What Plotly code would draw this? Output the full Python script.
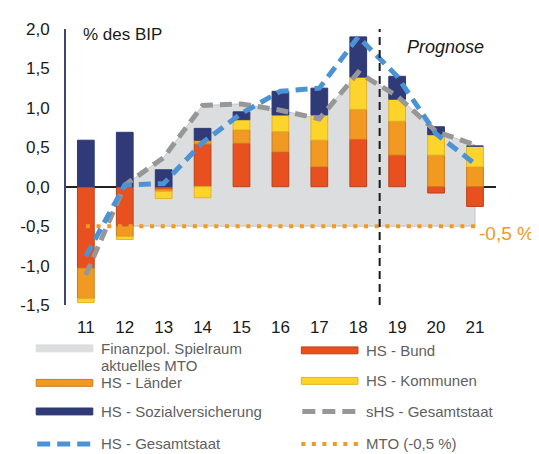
import plotly.graph_objects as go

years = [11, 12, 13, 14, 15, 16, 17, 18, 19, 20, 21]
year_labels = ["11", "12", "13", "14", "15", "16", "17", "18", "19", "20", "21"]

hs_bund = [-1.03, -0.50, -0.03, 0.54, 0.55, 0.44, 0.25, 0.60, 0.40, -0.08, -0.25]
hs_laender = [-0.39, -0.13, -0.03, 0.05, 0.17, 0.26, 0.34, 0.38, 0.43, 0.40, 0.25]
hs_kommunen = [-0.05, -0.04, -0.09, -0.14, 0.13, 0.21, 0.32, 0.41, 0.28, 0.26, 0.265]
hs_sozial = [0.59, 0.69, 0.215, 0.15, 0.10, 0.30, 0.34, 0.51, 0.29, 0.10, 0.0]
hs_gesamt = [-0.88, 0.02, 0.04, 0.56, 0.93, 1.21, 1.25, 1.90, 1.40, 0.67, 0.29]
shs_gesamt = [-1.12, 0.02, 0.37, 1.03, 1.05, 0.97, 0.86, 1.45, 1.15, 0.70, 0.53]
mto = [-0.5] * len(years)
fill_years = years[1:]
fill_top = shs_gesamt[1:]
fill_bottom = mto[1:]

y_ticks = [-1.5, -1.0, -0.5, 0.0, 0.5, 1.0, 1.5, 2.0]
y_ticklabels = ["-1,5", "-1,0", "-0,5", "0,0", "0,5", "1,0", "1,5", "2,0"]

C_FILL = "#DCDDDF"
C_BUND = "#E8511F"
C_LAENDER = "#F29922"
C_KOMM = "#FDD42B"
C_SOZ = "#2F3A76"
C_GRAY = "#979797"
C_BLUE = "#4C93D5"
C_MTO = "#F29922"

fig = go.Figure()

# fill (base subplot, drawn below bars)
fig.add_trace(go.Scatter(
    x=fill_years + fill_years[::-1], y=fill_top + fill_bottom[::-1],
    fill="toself", fillcolor=C_FILL, mode="lines",
    line=dict(color="#C4C5C7", width=1), showlegend=False, hoverinfo="skip",
    xaxis="x", yaxis="y"))

bar_w = 0.43
for vals, col, edge in [(hs_bund, C_BUND, "#B9401C"), (hs_laender, C_LAENDER, "#C97D1E"),
                        (hs_kommunen, C_KOMM, "#E2B324"), (hs_sozial, C_SOZ, "#2F3A76")]:
    fig.add_trace(go.Bar(x=years, y=vals, width=bar_w, marker=dict(color=col, line=dict(color=edge, width=1)),
                         showlegend=False, xaxis="x2", yaxis="y2"))

fig.add_trace(go.Scatter(x=years, y=mto, mode="lines", line=dict(color=C_MTO, width=4, dash="4px,6.7px"),
                         showlegend=False, xaxis="x2", yaxis="y2"))
fig.add_trace(go.Scatter(x=years, y=shs_gesamt, mode="lines", line=dict(color=C_GRAY, width=5, dash="12px,7px"),
                         showlegend=False, xaxis="x2", yaxis="y2"))
fig.add_trace(go.Scatter(x=years, y=hs_gesamt, mode="lines", line=dict(color=C_BLUE, width=5, dash="12px,7px"),
                         showlegend=False, xaxis="x2", yaxis="y2"))

xr = [10.49, 21.54]
yr = [-1.5, 2.0]
axis_font = dict(family="Liberation Sans, Arial, sans-serif", size=17, color="#1a1a1a")

# page body has an 8px margin: figure is sized/placed so the plot area lands at the reference pixels
fig.update_layout(
    width=531, height=446,
    margin=dict(l=55, r=43, t=17, b=149),
    paper_bgcolor="white", plot_bgcolor="white",
    barmode="relative",
    showlegend=False,
    font=dict(family="Liberation Sans, Arial, sans-serif"),
    xaxis=dict(range=xr, tickvals=years, ticktext=year_labels, showgrid=False, zeroline=False,
               showline=False, ticks="", tickfont=axis_font, ticklabelstandoff=10),
    yaxis=dict(range=yr, tickvals=y_ticks, ticktext=y_ticklabels, showgrid=False, zeroline=False,
               showline=True, linecolor="#3D4571", linewidth=2, ticks="", tickfont=axis_font,
               ticklabelstandoff=11),
    xaxis2=dict(range=xr, overlaying="x", showgrid=False, zeroline=False, showticklabels=False, showline=False),
    yaxis2=dict(range=yr, overlaying="y", showgrid=False, zeroline=True, zerolinecolor="#222222",
                zerolinewidth=1.5, showticklabels=False, showline=False),
)

# forecast separator
fig.add_shape(type="line", xref="x2", yref="y2", x0=18.55, x1=18.55, y0=-1.5, y1=2.0,
              line=dict(color="#1a1a1a", width=2, dash="8px,5px"))

PX0, PX1, PY0, PY1 = 63, 496, 25, 305
def px(x):
    return (x - PX0) / (PX1 - PX0)
def py(y):
    return (PY1 - y) / (PY1 - PY0)

fig.add_annotation(text="% des BIP", xref="paper", yref="paper", x=px(78), y=py(31),
                   xanchor="left", yanchor="middle", showarrow=False,
                   font=dict(size=17, color="#1a1a1a"))
fig.add_annotation(text="<i>Prognose</i>", xref="paper", yref="paper", x=px(404), y=py(43),
                   xanchor="left", yanchor="middle", showarrow=False,
                   font=dict(size=18, color="#1a1a1a"))
fig.add_annotation(text="-0,5 %", xref="paper", yref="paper", x=px(477), y=py(232),
                   xanchor="left", yanchor="middle", showarrow=False,
                   font=dict(size=19, color=C_MTO))

# manual legend
leg_font = dict(size=15, color="#5F5F5F")
legend_items = [
    ("Finanzpol. Spielraum", "box", C_FILL, C_FILL, 33, 349),
    ("HS - Bund", "box", C_BUND, "#B9401C", 300, 351),
    ("HS - Länder", "box", C_LAENDER, "#C97D1E", 33, 384),
    ("HS - Kommunen", "box", C_KOMM, "#E2B324", 300, 382),
    ("HS - Sozialversicherung", "box", C_SOZ, C_SOZ, 33, 413),
    ("sHS - Gesamtstaat", "dash", C_GRAY, None, 300, 413),
    ("HS - Gesamtstaat", "dashb", C_BLUE, None, 33, 446),
    ("MTO (-0,5 %)", "dot", C_MTO, None, 300, 446),
]
for label, kind, col, edge, x, y in legend_items:
    if kind == "box":
        fig.add_shape(type="rect", xref="paper", yref="paper", x0=px(x), x1=px(x + 57),
                      y0=py(y + 3.5), y1=py(y - 3.5), fillcolor=col,
                      line=dict(color=edge, width=1))
    elif kind in ("dash", "dashb"):
        fig.add_shape(type="line", xref="paper", yref="paper", x0=px(x + 1), x1=px(x + 56),
                      y0=py(y), y1=py(y), line=dict(color=col, width=5, dash="13px,7px"))
    else:
        fig.add_shape(type="line", xref="paper", yref="paper", x0=px(x), x1=px(x + 57),
                      y0=py(y), y1=py(y), line=dict(color=col, width=4, dash="4px,6.5px"))
    fig.add_annotation(text=label, xref="paper", yref="paper", x=px(x + 63), y=py(y),
                       xanchor="left", yanchor="middle", showarrow=False, font=leg_font)
fig.add_annotation(text="aktuelles MTO", xref="paper", yref="paper", x=px(96), y=py(366),
                   xanchor="left", yanchor="middle", showarrow=False, font=leg_font)

fig.write_html("out.html")
